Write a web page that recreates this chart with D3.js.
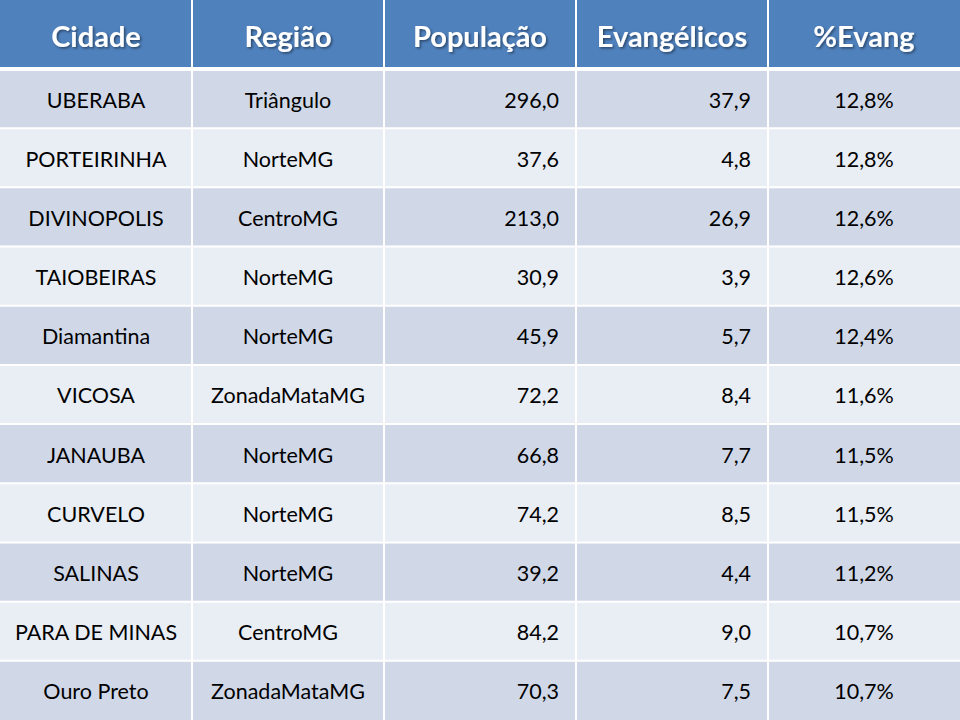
<!DOCTYPE html>
<html><head><meta charset="utf-8">
<script src="https://cdn.jsdelivr.net/npm/d3@7"></script>
<style>html,body{margin:0;padding:0;background:#fff;}</style>
</head><body>
<svg id="c" width="960" height="720"></svg>
<script>
const headers = ["Cidade","Região","População","Evangélicos","%Evang"];
const cidades = ["UBERABA","PORTEIRINHA","DIVINOPOLIS","TAIOBEIRAS","Diamantina","VICOSA","JANAUBA","CURVELO","SALINAS","PARA DE MINAS","Ouro Preto"];
const regioes = ["Triângulo","NorteMG","CentroMG","NorteMG","NorteMG","ZonadaMataMG","NorteMG","NorteMG","NorteMG","CentroMG","ZonadaMataMG"];
const populacao = [296.0,37.6,213.0,30.9,45.9,72.2,66.8,74.2,39.2,84.2,70.3];
const evangelicos = [37.9,4.8,26.9,3.9,5.7,8.4,7.7,8.5,4.4,9.0,7.5];
const pctEvang = [12.8,12.8,12.6,12.6,12.4,11.6,11.5,11.5,11.2,10.7,10.7];

const W = 960, H = 720, headH = 69;
const svg = d3.select("#c");
const x = d3.scaleBand().domain(d3.range(headers.length)).range([0, W]);
const y = d3.scaleBand().domain(d3.range(cidades.length)).range([headH, H]);
const fmt1 = v => v.toFixed(1).replace(".", ",");
const rows = cidades.map((c,i)=>[c, regioes[i], fmt1(populacao[i]), fmt1(evangelicos[i]), fmt1(pctEvang[i])+"%"]);
const align = ["middle","middle","end","end","middle"];
const font = "Lato, 'Open Sans', sans-serif";

const defs = svg.append("defs");
const f = defs.append("filter").attr("id","sh").attr("x","-10%").attr("y","-30%").attr("width","130%").attr("height","160%");
f.append("feDropShadow").attr("dx",1.5).attr("dy",1.5).attr("stdDeviation",1).attr("flood-color","#000").attr("flood-opacity",0.45);

// header
const hg = svg.append("g");
hg.selectAll("rect").data(headers).join("rect")
  .attr("x",(d,i)=>x(i)).attr("y",0).attr("width",x.bandwidth()).attr("height",headH)
  .attr("fill","#4F81BD");
hg.selectAll("text").data(headers).join("text")
  .attr("x",(d,i)=>x(i)+x.bandwidth()/2).attr("y",headH/2+1)
  .attr("text-anchor","middle").attr("dominant-baseline","central")
  .attr("font-family",font).attr("font-weight","bold").attr("font-size",29)
  .attr("fill","#fff").attr("filter","url(#sh)").text(d=>d);

// body
const rg = svg.selectAll("g.row").data(rows).join("g").attr("class","row")
  .attr("transform",(d,i)=>`translate(0,${y(i)})`);
rg.selectAll("rect").data((d,i)=>d.map(v=>({v,i}))).join("rect")
  .attr("x",(d,j)=>x(j)).attr("y",0).attr("width",x.bandwidth()).attr("height",y.bandwidth())
  .attr("fill",d=>d.i%2===0?"#D0D8E8":"#E9EDF4");
rg.selectAll("text").data(d=>d).join("text")
  .attr("x",(d,j)=>align[j]==="middle"?x(j)+x.bandwidth()/2:x(j)+x.bandwidth()-17)
  .attr("y",y.bandwidth()/2+1)
  .attr("text-anchor",(d,j)=>align[j]).attr("dominant-baseline","central")
  .attr("font-family",font).attr("font-size",21.5).attr("fill","#000").text(d=>d);

// white grid lines
const grid = svg.append("g").attr("stroke","#fff");
grid.selectAll("line.v").data(d3.range(1,headers.length)).join("line").attr("class","v")
  .attr("x1",i=>x(i)).attr("x2",i=>x(i)).attr("y1",0).attr("y2",H).attr("stroke-width",2);
grid.selectAll("line.h").data(d3.range(cidades.length)).join("line").attr("class","h")
  .attr("x1",0).attr("x2",W).attr("y1",i=>y(i)).attr("y2",i=>y(i))
  .attr("stroke-width",(d,i)=>i===0?4:2);
</script>
</body></html>
